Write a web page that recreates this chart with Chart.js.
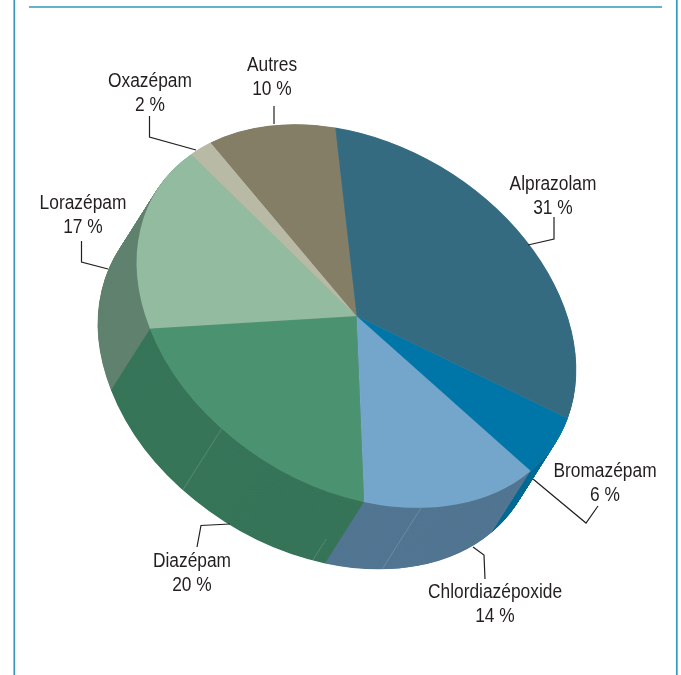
<!DOCTYPE html>
<html>
<head>
<meta charset="utf-8">
<style>
  html, body { margin: 0; padding: 0; background: #fff; }
  #pie { display: block; }
</style>
<script src="https://cdn.jsdelivr.net/npm/chart.js@4"></script>
</head>
<body>
<canvas id="pie" width="681" height="675"></canvas>
<script>
var drugs = ['Alprazolam', 'Bromazépam', 'Chlordiazépoxide', 'Diazépam', 'Lorazépam', 'Oxazépam', 'Autres'];
var shares = [31, 6, 14, 20, 17, 2, 10];
var topColors = ['#346b80', '#0076a8', '#74a5cb', '#4a9270', '#92bba0', '#b9baa6', '#837e65'];
var wallColors = ['#2b5a6c', '#006a94', '#527692', '#377559', '#60826f', '#9a9b89', '#6d6954'];

// pale seams in the side wall, position in % of the pie and where they begin along the wall
var seamPositions = [46.8, 51.9, 62.05];
var seamStarts = [0, 0.65, 0];

// label anchors: centre x, first baseline
var labelX = [553, 605, 495, 192, 83, 150, 272];
var labelY = [190, 477, 598, 567, 209, 87, 71];
var leaders = [
    [[554, 217], [554, 239], [528, 245]],
    [[598, 506], [586, 523], [533, 479]],
    [[485, 579], [484, 555], [473, 547]],
    [[197, 547], [201, 525.5], [230, 524]],
    [[81.5, 241], [81.5, 262], [108, 269]],
    [[149.5, 116], [149.5, 137], [196, 150]],
    [[274, 106], [274, 124]]
];

// the tilted disc
var discX = 356.5, discY = 316, discA = 236, discB = 171.5, discTilt = 32 * Math.PI / 180;
var depthX = -39, depthY = 61.5, depthSteps = 140;
var startRotation = 330;
var labelSquash = 0.89;

function tilt(ctx, arc, dx, dy) {
    ctx.translate(discX + dx, discY + dy);
    ctx.rotate(discTilt);
    ctx.scale(discA / arc.outerRadius, discB / arc.outerRadius);
    ctx.translate(-arc.x, -arc.y);
}

function narrowText(ctx, text, x, y) {
    ctx.save();
    ctx.translate(x, y);
    ctx.scale(labelSquash, 1);
    ctx.fillText(text, 0, 0);
    ctx.restore();
}

var tiltedPie = {
    id: 'tiltedPie',
    beforeDatasetsDraw: function(chart) {
        var ctx = chart.ctx;
        var arcs = chart.getDatasetMeta(0).data;

        // side wall, painted from the far end up to the top face
        for (var s = depthSteps; s > 0; s--) {
            var t = s / depthSteps;
            arcs.forEach(function(arc, i) {
                var saved = arc.options;
                arc.options = Object.assign({}, saved, { backgroundColor: wallColors[i], borderWidth: 0 });
                ctx.save();
                tilt(ctx, arc, depthX * t, depthY * t);
                arc.draw(ctx);
                ctx.restore();
                arc.options = saved;
            });
        }

        // seams
        ctx.save();
        ctx.strokeStyle = 'rgba(255,255,255,0.22)';
        ctx.lineWidth = 0.7;
        seamPositions.forEach(function(pos, i) {
            var a = (startRotation - 90 + pos * 3.6) * Math.PI / 180;
            var ex = discA * Math.cos(a), ey = discB * Math.sin(a);
            var x = discX + ex * Math.cos(discTilt) - ey * Math.sin(discTilt);
            var y = discY + ex * Math.sin(discTilt) + ey * Math.cos(discTilt);
            ctx.beginPath();
            ctx.moveTo(x + depthX * seamStarts[i], y + depthY * seamStarts[i]);
            ctx.lineTo(x + depthX, y + depthY);
            ctx.stroke();
        });
        ctx.restore();

        ctx.save();
        tilt(ctx, arcs[0], 0, 0);
    },
    afterDatasetsDraw: function(chart) {
        var ctx = chart.ctx;
        ctx.restore();

        // frame
        ctx.save();
        ctx.strokeStyle = '#3597bd';
        ctx.lineWidth = 1.7;
        ctx.beginPath();
        ctx.moveTo(14.3, 0);
        ctx.lineTo(14.3, 675);
        ctx.moveTo(676.8, 0);
        ctx.lineTo(676.8, 675);
        ctx.moveTo(29, 7);
        ctx.lineTo(662, 7);
        ctx.stroke();

        // leader lines
        ctx.strokeStyle = '#231f20';
        ctx.lineWidth = 1.2;
        leaders.forEach(function(pts) {
            ctx.beginPath();
            pts.forEach(function(p, i) {
                if (i === 0) ctx.moveTo(p[0], p[1]);
                else ctx.lineTo(p[0], p[1]);
            });
            ctx.stroke();
        });

        // labels
        ctx.fillStyle = '#231f20';
        ctx.textAlign = 'center';
        ctx.textBaseline = 'alphabetic';
        ctx.font = '19.5px "Liberation Sans", sans-serif';
        drugs.forEach(function(name, i) {
            narrowText(ctx, name, labelX[i], labelY[i]);
            narrowText(ctx, shares[i] + ' %', labelX[i], labelY[i] + 24);
        });
        ctx.restore();
    }
};

new Chart(document.getElementById('pie').getContext('2d'), {
    type: 'pie',
    data: {
        labels: drugs,
        datasets: [{
            data: shares,
            backgroundColor: topColors,
            borderColor: 'rgba(255,255,255,0.14)',
            borderWidth: 0.5
        }]
    },
    options: {
        responsive: false,
        animation: false,
        rotation: startRotation,
        events: [],
        plugins: {
            legend: { display: false },
            tooltip: { enabled: false }
        }
    },
    plugins: [tiltedPie]
});
</script>
</body>
</html>
